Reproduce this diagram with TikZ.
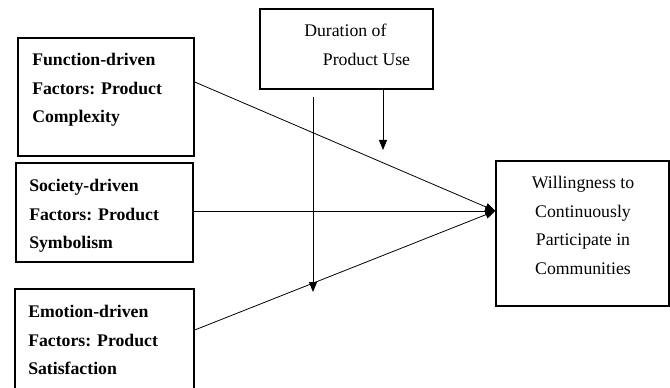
\documentclass[tikz,border=0pt]{standalone}
\usepackage{fontspec}
\setmainfont{Liberation Serif}
\usetikzlibrary{arrows.meta}

\begin{document}
\begin{tikzpicture}[x=0.75pt,y=-0.75pt,
  box/.style={draw, line width=1.1pt, inner sep=0pt},
  boxtext/.style={inner sep=0pt, font=\fontsize{13.3}{21.4}\selectfont},
  link/.style={line width=0.6pt, -{Triangle[length=7.5pt,width=6pt]}}]
\useasboundingbox (0,0) rectangle (670,388);

\node[box, minimum width=132pt, minimum height=88.5pt] (func) at (106,97) {};
\node[box, minimum width=132.75pt, minimum height=74.25pt] (soc) at (104.5,212.5) {};
\node[box, minimum width=134.25pt, minimum height=76.5pt] (emo) at (104.5,340) {};
\node[box, minimum width=129.75pt, minimum height=60pt] (dur) at (346.5,49) {};
\node[box, minimum width=129.75pt, minimum height=108.75pt] (will) at (582.5,233.5) {};

\node[boxtext, anchor=north west, align=left, font=\fontsize{13.3}{21.4}\selectfont\bfseries] (functext) at (32,53)
  {Function-driven\\Factors: Product\\Complexity};
\node[boxtext, anchor=north west, align=left, font=\fontsize{13.3}{21.4}\selectfont\bfseries] (soctext) at (29,179)
  {Society-driven\\Factors: Product\\Symbolism};
\node[boxtext, anchor=north west, align=left, font=\fontsize{13.3}{21.4}\selectfont\bfseries] (emotext) at (28,305)
  {Emotion-driven\\Factors: Product\\Satisfaction};
\node[boxtext, anchor=north west, align=left] (durtext) at (304,24)
  {Duration of\\\hspace*{14pt}Product Use};
\node[boxtext, anchor=north, align=center] (willtext) at (583,176)
  {Willingness to\\Continuously\\Participate in\\Communities};

\coordinate (hub) at ([yshift=16.9pt]will.west);
\draw[link] ([yshift=11.25pt]func.east) -- (hub);
\draw[link] (soc.east |- hub) -- (hub);
\draw[link] ([yshift=7.5pt]emo.east) -- (hub);

\coordinate (modtip1) at (383,150);
\coordinate (modtop) at (313,97);
\coordinate (modtip2) at (313,292);
\draw[link] (dur.south -| modtip1) -- (modtip1);
\draw[link] (modtop) -- (modtip2);
\end{tikzpicture}
\end{document}
